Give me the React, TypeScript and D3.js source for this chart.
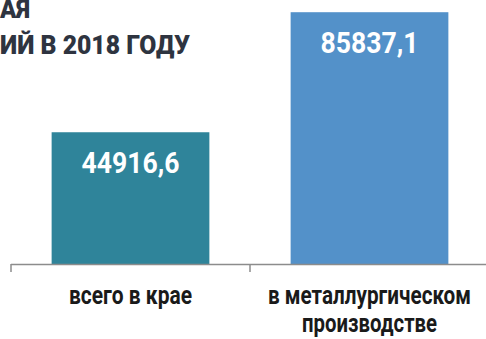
import { useEffect, useRef } from 'react';
import * as d3 from 'd3';

const categories = ['всего в крае', 'в металлургическом производстве'];
const categoryLines = [['всего в крае'], ['в металлургическом', 'производстве']];
const values = [44916.6, 85837.1];
const valueLabels = ['44916,6', '85837,1'];
const barColors = ['#2F849A', '#5391C9'];
const titleLines = ['АЯ', 'ИЙ В 2018 ГОДУ'];

const WIDTH = 486;
const HEIGHT = 339;
const FONT = 'Roboto, "DejaVu Sans Condensed", sans-serif';

export default function App() {
  const svgRef = useRef<SVGSVGElement>(null);

  useEffect(() => {
    const svg = d3.select(svgRef.current);
    svg.selectAll('*').remove();

    const baseY = 264;

    const x = d3.scaleBand<string>()
      .domain(categories)
      .range([11, 489])
      .paddingInner(0.34)
      .paddingOuter(0.17);

    const y = d3.scaleLinear()
      .domain([0, 90000])
      .range([baseY, 0]);

    // Title, cut at the left edge as in the original slide
    const titleWidths = [30, 190];
    svg.append('g')
      .selectAll('text')
      .data(titleLines)
      .enter().append('text')
      .attr('x', 0)
      .attr('y', (d, i) => 18 + i * 36)
      .attr('textLength', (d, i) => titleWidths[i])
      .attr('lengthAdjust', 'spacingAndGlyphs')
      .style('font-family', FONT)
      .style('font-size', '26px')
      .style('font-weight', 900)
      .style('fill', '#2E3440')
      .text(d => d);

    // Bars
    const bars = svg.append('g')
      .selectAll('g')
      .data(values)
      .enter().append('g');

    bars.append('rect')
      .attr('x', (d, i) => x(categories[i])!)
      .attr('y', d => y(d))
      .attr('width', x.bandwidth())
      .attr('height', d => baseY - y(d))
      .attr('fill', (d, i) => barColors[i]);

    bars.append('text')
      .attr('x', (d, i) => x(categories[i])! + x.bandwidth() / 2)
      .attr('y', d => y(d) + 41)
      .attr('text-anchor', 'middle')
      .attr('textLength', 98)
      .attr('lengthAdjust', 'spacingAndGlyphs')
      .style('font-family', FONT)
      .style('font-size', '30px')
      .style('font-weight', 'bold')
      .style('fill', '#ffffff')
      .text((d, i) => valueLabels[i]);

    // Category axis
    const axis = svg.append('g');
    axis.append('line')
      .attr('x1', 11)
      .attr('x2', WIDTH)
      .attr('y1', baseY + 0.5)
      .attr('y2', baseY + 0.5)
      .attr('stroke', '#8C8C8C')
      .attr('stroke-width', 1.5);

    const step = x.step();
    axis.selectAll('.tick')
      .data([11, 11 + step])
      .enter().append('line')
      .attr('class', 'tick')
      .attr('x1', d => d)
      .attr('x2', d => d)
      .attr('y1', baseY)
      .attr('y2', baseY + 8)
      .attr('stroke', '#8C8C8C')
      .attr('stroke-width', 1.5);

    const lineWidths = [[123], [203, 135]];
    const labels = axis.selectAll('.cat')
      .data(categoryLines)
      .enter().append('text')
      .attr('class', 'cat')
      .attr('text-anchor', 'middle')
      .style('font-family', FONT)
      .style('font-size', '26px')
      .style('font-weight', 'bold')
      .style('fill', '#1A1A1A');

    labels.selectAll('tspan')
      .data((d, i) => d.map((line, j) => ({ line, i, j })))
      .enter().append('tspan')
      .attr('x', d => x(categories[d.i])! + x.bandwidth() / 2)
      .attr('y', d => 304 + d.j * 28)
      .attr('textLength', d => lineWidths[d.i][d.j])
      .attr('lengthAdjust', 'spacingAndGlyphs')
      .text(d => d.line);
  }, []);

  return (
    <svg
      ref={svgRef}
      width={WIDTH}
      height={HEIGHT}
      style={{ position: 'absolute', left: 0, top: 0, background: '#ffffff' }}
    />
  );
}
